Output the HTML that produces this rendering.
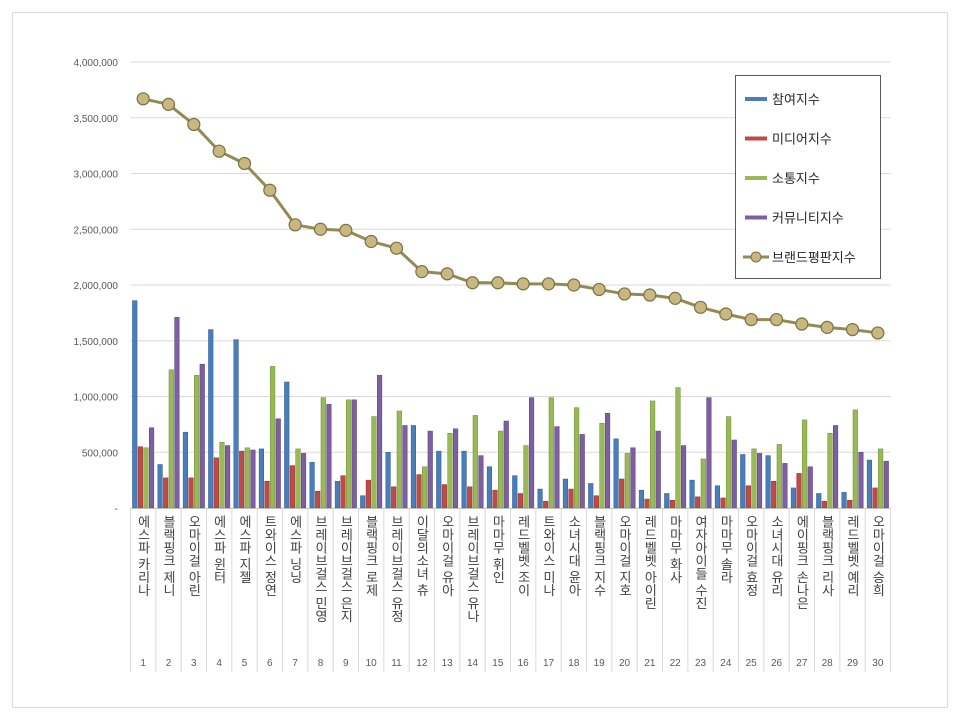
<!DOCTYPE html>
<html><head><meta charset="utf-8">
<style>
body{margin:0;background:#fff;}
svg{display:block;font-family:"Liberation Sans","Noto Sans CJK KR",sans-serif;}
</style></head>
<body>
<svg id="chart" width="960" height="719" viewBox="0 0 960 719" xmlns="http://www.w3.org/2000/svg">
<rect x="0" y="0" width="960" height="719" fill="#fff"/>
<rect x="12.5" y="12.5" width="935" height="695" fill="none" stroke="#d9d9d9"/>
<g id="grid"></g><g id="bars"></g><g id="line"></g><g id="axis"></g><g id="legend"></g>
</svg>
<script>
const categories=["에스파 카리나","블랙핑크 제니","오마이걸 아린","에스파 윈터","에스파 지젤","트와이스 정연","에스파 닝닝","브레이브걸스 민영","브레이브걸스 은지","블랙핑크 로제","브레이브걸스 유정","이달의소녀 츄","오마이걸 유아","브레이브걸스 유나","마마무 휘인","레드벨벳 조이","트와이스 미나","소녀시대 윤아","블랙핑크 지수","오마이걸 지호","레드벨벳 아이린","마마무 화사","여자아이들 수진","마마무 솔라","오마이걸 효정","소녀시대 유리","에이핑크 손나은","블랙핑크 리사","레드벨벳 예리","오마이걸 승희"];
const participation=[1860,390,680,1600,1510,530,1130,410,240,110,500,740,510,510,370,290,170,260,220,620,160,130,250,200,480,470,180,130,140,430];
const media=[550,270,270,450,510,240,380,150,290,250,190,300,210,190,160,130,60,170,110,260,80,70,100,90,200,240,310,60,70,180];
const communication=[540,1240,1190,590,540,1270,530,990,970,820,870,370,670,830,690,560,990,900,760,490,960,1080,440,820,530,570,790,670,880,530];
const community=[720,1710,1290,560,520,800,490,930,970,1190,740,690,710,470,780,990,730,660,850,540,690,560,990,610,490,400,370,740,500,420];
const brand=[3670,3620,3440,3200,3090,2850,2540,2500,2490,2390,2330,2120,2100,2020,2020,2010,2010,2000,1960,1920,1910,1880,1800,1740,1690,1690,1650,1620,1600,1570];
const yTicks=[0,500000,1000000,1500000,2000000,2500000,3000000,3500000,4000000];
const yTickLabels=["-","500,000","1,000,000","1,500,000","2,000,000","2,500,000","3,000,000","3,500,000","4,000,000"];
const seriesNames=["참여지수","미디어지수","소통지수","커뮤니티지수","브랜드평판지수"];

const NS="http://www.w3.org/2000/svg";
const X0=130.5,X1=890.5,Y0=508,Ytop=62,YMAX=4000000;
const bw=(X1-X0)/categories.length;
function y(v){return Y0-(v/YMAX)*(Y0-Ytop);}
function xc(i){return X0+bw*(i+0.5);}
function mk(tag,attrs,parent){const e=document.createElementNS(NS,tag);for(const k in attrs)e.setAttribute(k,attrs[k]);parent.appendChild(e);return e;}
const grid=document.getElementById('grid'),bars=document.getElementById('bars'),line=document.getElementById('line'),axis=document.getElementById('axis'),legend=document.getElementById('legend');

yTicks.forEach((t,i)=>{
  if(i>0){const g=mk('line',{x1:X0,x2:X1,y1:y(t),y2:y(t),stroke:'#d9d9d9'},grid);
  
  }
  const tx=mk('text',{x:118,y:y(t)+4,'text-anchor':'end','font-size':'10',fill:'#595959'},axis);
  tx.textContent=yTickLabels[i];
  
  
});
// category table
mk('line',{x1:X0,x2:X1,y1:Y0+0.5,y2:Y0+0.5,stroke:'#bfbfbf'},axis);
for(let i=0;i<=categories.length;i++){
  const xx=X0+bw*i;
  mk('line',{x1:xx,x2:xx,y1:Y0,y2:672,stroke:'#d9d9d9'},axis);
}
categories.forEach((c,i)=>{
  const t=mk('text',{x:xc(i),y:515,'writing-mode':'tb','font-size':'13',fill:'#404040','text-anchor':'start','glyph-orientation-vertical':'0'},axis);
  t.textContent=c;
  
  
  const n=mk('text',{x:xc(i),y:666,'text-anchor':'middle','font-size':'10',fill:'#595959'},axis);
  n.textContent=String(i+1);
  
  
});
const series=[[participation,'#4a7ebb','#2c5a8f'],[media,'#be4b48','#8c2f2c'],[communication,'#98b954','#6d8a35'],[community,'#7d60a0','#57407a']];
const w=4.6;
series.forEach((s,si)=>{
  s[0].forEach((v,i)=>{
    const x=xc(i)-2*w-1.5+si*(w+1);
    const r=mk('rect',{x:x,y:y(v*1000),width:w,height:Y0-y(v*1000),fill:s[1],stroke:s[2],'stroke-width':'0.5'},bars);
    
    
  });
});
const pts=brand.map((v,i)=>xc(i)+','+y(v*1000)).join(' ');
const pl=mk('polyline',{points:pts,fill:'none',stroke:'#948a54','stroke-width':'3'},line);


brand.forEach((v,i)=>{
  const c=mk('circle',{cx:xc(i),cy:y(v*1000),r:6,fill:'#c8b77e',stroke:'#7a7046','stroke-width':'1.2'},line);
  
  
});
// legend
const lb=mk('rect',{x:735.5,y:75.5,width:145,height:203,fill:'#fff',stroke:'#595959'},legend);


seriesNames.forEach((nm,i)=>{
  const ly=99+i*39.5;
  let m;
  if(i<4){m=mk('rect',{x:745,y:ly-2,width:22,height:4,fill:series[i][1]},legend);}
  else{mk('line',{x1:743,x2:769,y1:ly,y2:ly,stroke:'#948a54','stroke-width':'3'},legend);m=mk('circle',{cx:756,cy:ly,r:5,fill:'#c8b77e',stroke:'#7a7046'},legend);}
  
  
  const t=mk('text',{x:772,y:ly+5,'font-size':'13',fill:'#262626'},legend);
  t.textContent=nm;
  
  
});
</script>
</body></html>
